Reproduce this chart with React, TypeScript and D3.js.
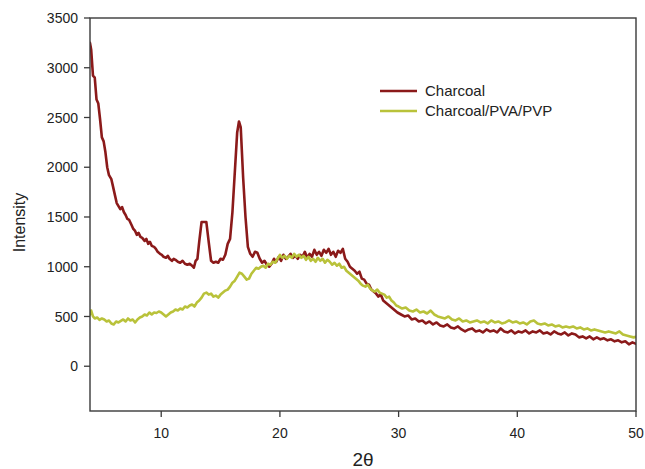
import React from "react";
import * as d3 from "d3";

const charcoal: [number, number][] = [
  [4.0, 3250], [4.1, 3180], [4.25, 2920], [4.4, 2900], [4.55, 2680], [4.7, 2640], [4.85, 2480], [5.0, 2300],
  [5.15, 2260], [5.3, 2150], [5.45, 2000], [5.6, 1920], [5.8, 1880], [5.95, 1800], [6.1, 1720], [6.25, 1640],
  [6.4, 1610], [6.55, 1580], [6.7, 1600], [6.85, 1550], [7.0, 1520], [7.15, 1480], [7.3, 1470], [7.5, 1420],
  [7.65, 1380], [7.8, 1360], [7.95, 1320], [8.1, 1340], [8.25, 1300], [8.4, 1290], [8.6, 1260], [8.75, 1280],
  [8.9, 1230], [9.05, 1250], [9.2, 1210], [9.4, 1200], [9.55, 1180], [9.7, 1150], [9.9, 1130], [10.05, 1120],
  [10.2, 1100], [10.4, 1090], [10.55, 1110], [10.7, 1080], [10.9, 1060], [11.05, 1080], [11.2, 1070], [11.4, 1050],
  [11.6, 1040], [11.8, 1060], [12.0, 1030], [12.2, 1020], [12.4, 1030], [12.6, 1010], [12.75, 990], [12.9, 1060],
  [13.05, 1080], [13.2, 1250], [13.4, 1450], [13.6, 1450], [13.8, 1450], [14.0, 1250], [14.2, 1060], [14.4, 1040],
  [14.6, 1050], [14.8, 1040], [15.0, 1080], [15.2, 1070], [15.4, 1120], [15.6, 1230], [15.8, 1280], [16.0, 1550],
  [16.2, 1950], [16.4, 2350], [16.55, 2460], [16.7, 2400], [16.9, 1900], [17.1, 1500], [17.3, 1200], [17.5, 1130],
  [17.7, 1100], [17.9, 1150], [18.1, 1140], [18.3, 1080], [18.5, 1040], [18.7, 1060], [18.9, 1020], [19.1, 1000],
  [19.3, 1030], [19.5, 1080], [19.7, 1050], [19.9, 1100], [20.1, 1060], [20.3, 1120], [20.5, 1080], [20.7, 1100],
  [20.9, 1130], [21.1, 1090], [21.3, 1110], [21.5, 1080], [21.7, 1120], [21.9, 1100], [22.1, 1150], [22.3, 1090],
  [22.5, 1130], [22.7, 1100], [22.9, 1170], [23.1, 1120], [23.3, 1150], [23.5, 1110], [23.7, 1170], [23.9, 1140],
  [24.1, 1180], [24.3, 1120], [24.5, 1150], [24.7, 1100], [24.9, 1160], [25.1, 1140], [25.3, 1180], [25.5, 1080],
  [25.7, 1050], [25.9, 1000], [26.1, 980], [26.3, 960], [26.5, 930], [26.7, 950], [26.9, 880], [27.1, 870],
  [27.3, 830], [27.5, 820], [27.7, 770], [27.9, 750], [28.1, 730], [28.3, 700], [28.5, 720], [28.7, 660],
  [28.9, 640], [29.1, 620], [29.3, 600], [29.5, 580], [29.7, 560], [29.9, 540], [30.2, 520], [30.5, 500],
  [30.8, 510], [31.1, 470], [31.4, 480], [31.7, 450], [32.0, 460], [32.3, 430], [32.6, 450], [32.9, 420],
  [33.2, 440], [33.5, 410], [33.8, 400], [34.1, 420], [34.4, 390], [34.7, 380], [35.0, 400], [35.3, 370],
  [35.6, 350], [35.9, 370], [36.2, 380], [36.5, 350], [36.8, 360], [37.1, 340], [37.4, 370], [37.7, 350],
  [38.0, 360], [38.3, 340], [38.6, 380], [38.9, 350], [39.2, 340], [39.5, 360], [39.8, 330], [40.1, 350],
  [40.4, 340], [40.7, 360], [41.0, 330], [41.3, 350], [41.6, 340], [41.9, 360], [42.2, 330], [42.5, 340],
  [42.8, 320], [43.1, 350], [43.4, 330], [43.7, 320], [44.0, 340], [44.3, 310], [44.6, 330], [44.9, 320],
  [45.2, 290], [45.5, 300], [45.8, 280], [46.1, 300], [46.4, 270], [46.7, 290], [47.0, 270], [47.3, 280],
  [47.6, 260], [47.9, 270], [48.2, 250], [48.5, 260], [48.8, 240], [49.1, 250], [49.4, 220], [49.7, 240],
  [50.0, 225],
];

const charcoalPvaPvp: [number, number][] = [
  [4.0, 520], [4.1, 560], [4.25, 500], [4.4, 480], [4.6, 490], [4.8, 465], [5.0, 480], [5.2, 470],
  [5.4, 450], [5.6, 460], [5.8, 430], [6.0, 420], [6.2, 450], [6.4, 440], [6.6, 455], [6.8, 470],
  [7.0, 450], [7.2, 480], [7.4, 460], [7.6, 470], [7.8, 440], [8.0, 470], [8.2, 490], [8.4, 500],
  [8.6, 520], [8.8, 510], [9.0, 540], [9.2, 520], [9.4, 540], [9.6, 535], [9.8, 550], [10.0, 540],
  [10.2, 520], [10.4, 500], [10.6, 520], [10.8, 540], [11.0, 550], [11.2, 570], [11.4, 560], [11.6, 580],
  [11.8, 570], [12.0, 600], [12.2, 590], [12.4, 610], [12.6, 620], [12.8, 600], [13.0, 640], [13.2, 660],
  [13.4, 690], [13.6, 730], [13.8, 740], [14.0, 720], [14.2, 730], [14.4, 700], [14.6, 710], [14.8, 690],
  [15.0, 720], [15.2, 740], [15.4, 760], [15.6, 770], [15.8, 800], [16.0, 840], [16.2, 860], [16.4, 900],
  [16.6, 940], [16.8, 930], [17.0, 900], [17.2, 870], [17.4, 880], [17.6, 930], [17.8, 960], [18.0, 990],
  [18.2, 980], [18.4, 1000], [18.6, 1010], [18.8, 990], [19.0, 1030], [19.2, 1020], [19.4, 1050], [19.6, 1040],
  [19.8, 1080], [20.0, 1120], [20.2, 1090], [20.4, 1110], [20.6, 1080], [20.8, 1110], [21.0, 1090], [21.2, 1130],
  [21.4, 1100], [21.6, 1120], [21.8, 1090], [22.0, 1110], [22.2, 1070], [22.4, 1100], [22.6, 1060], [22.8, 1080],
  [23.0, 1050], [23.2, 1090], [23.4, 1060], [23.6, 1080], [23.8, 1040], [24.0, 1070], [24.2, 1050], [24.4, 1020],
  [24.6, 1040], [24.8, 1010], [25.0, 1030], [25.2, 990], [25.4, 1000], [25.6, 960], [25.8, 940], [26.0, 920],
  [26.2, 900], [26.4, 880], [26.6, 860], [26.8, 830], [27.0, 810], [27.2, 800], [27.4, 820], [27.6, 780],
  [27.8, 760], [28.0, 750], [28.2, 770], [28.4, 740], [28.6, 730], [28.8, 720], [29.0, 690], [29.2, 700],
  [29.4, 660], [29.6, 640], [29.8, 610], [30.0, 600], [30.3, 580], [30.6, 590], [30.9, 560], [31.2, 550],
  [31.5, 570], [31.8, 540], [32.1, 550], [32.4, 530], [32.7, 560], [33.0, 520], [33.3, 500], [33.6, 490],
  [33.9, 480], [34.2, 500], [34.5, 470], [34.8, 460], [35.1, 480], [35.4, 450], [35.7, 460], [36.0, 440],
  [36.3, 450], [36.6, 460], [36.9, 440], [37.2, 450], [37.5, 430], [37.8, 460], [38.1, 440], [38.4, 450],
  [38.7, 430], [39.0, 440], [39.3, 460], [39.6, 440], [39.9, 450], [40.2, 430], [40.5, 440], [40.8, 420],
  [41.1, 450], [41.4, 460], [41.7, 430], [42.0, 420], [42.3, 430], [42.6, 410], [42.9, 420], [43.2, 400],
  [43.5, 410], [43.8, 390], [44.1, 400], [44.4, 390], [44.7, 400], [45.0, 380], [45.3, 390], [45.6, 370],
  [45.9, 380], [46.2, 360], [46.5, 370], [46.8, 360], [47.1, 350], [47.4, 340], [47.7, 350], [48.0, 340],
  [48.3, 330], [48.6, 350], [48.9, 320], [49.2, 310], [49.5, 300], [49.8, 290], [50.0, 295],
];

const xTicks = [10, 20, 30, 40, 50];
const yTicks = [0, 500, 1000, 1500, 2000, 2500, 3000, 3500];
const seriesNames = ["Charcoal", "Charcoal/PVA/PVP"];
const seriesColors = ["#8b1a1a", "#b9c23a"];

const W = 645;
const H = 469;
const L = 90, R = 636, T = 18, B = 411;
const FONT = "'Liberation Sans', Arial, Helvetica, sans-serif";

export default function App() {
  const x = d3.scaleLinear().domain([4, 50]).range([L, R]);
  const y = d3.scaleLinear().domain([-450, 3500]).range([B, T]);
  const line = d3
    .line<[number, number]>()
    .x((d) => x(d[0]))
    .y((d) => y(d[1]));
  const data = [charcoal, charcoalPvaPvp];
  const axisColor = "#3a3a3a";

  return (
    <svg
      width={W}
      height={H}
      style={{ position: "absolute", left: 0, top: 0, background: "#fff" }}
      fontFamily={FONT}
    >
      <defs>
        <clipPath id="plot">
          <rect x={L} y={T} width={R - L} height={B - T} />
        </clipPath>
      </defs>
      <rect x={0} y={0} width={W} height={H} fill="#fff" />
      <g clipPath="url(#plot)">
        {data.map((d, i) => (
          <path
            key={i}
            d={line(d) || ""}
            fill="none"
            stroke={seriesColors[i]}
            strokeWidth={2.6}
            strokeLinejoin="round"
            strokeLinecap="round"
          />
        ))}
      </g>
      <rect x={L} y={T} width={R - L} height={B - T} fill="none" stroke={axisColor} strokeWidth={1.4} />
      {yTicks.map((t) => (
        <g key={"y" + t}>
          <line x1={L - 6} x2={L} y1={y(t)} y2={y(t)} stroke={axisColor} strokeWidth={1.3} />
          <text x={L - 12} y={y(t)} dy="0.36em" textAnchor="end" fontSize={14} fill="#222">
            {t}
          </text>
        </g>
      ))}
      {xTicks.map((t) => (
        <g key={"x" + t}>
          <line x1={x(t)} x2={x(t)} y1={B} y2={B + 6} stroke={axisColor} strokeWidth={1.3} />
          <text x={x(t)} y={B + 27} textAnchor="middle" fontSize={14} fill="#222">
            {t}
          </text>
        </g>
      ))}
      <text
        transform={`translate(25, ${(T + B) / 2 + 8}) rotate(-90)`}
        textAnchor="middle"
        fontSize={16}
        fill="#222"
      >
        Intensity
      </text>
      <text x={(L + R) / 2 + 0} y={H - 3} textAnchor="middle" fontSize={19} fill="#222">
        2θ
      </text>
      {seriesNames.map((n, i) => (
        <g key={n}>
          <line x1={380} x2={417} y1={91 + i * 20} y2={91 + i * 20} stroke={seriesColors[i]} strokeWidth={2.6} />
          <text x={425} y={91 + i * 20} dy="0.36em" fontSize={15} fill="#222">
            {n}
          </text>
        </g>
      ))}
    </svg>
  );
}
